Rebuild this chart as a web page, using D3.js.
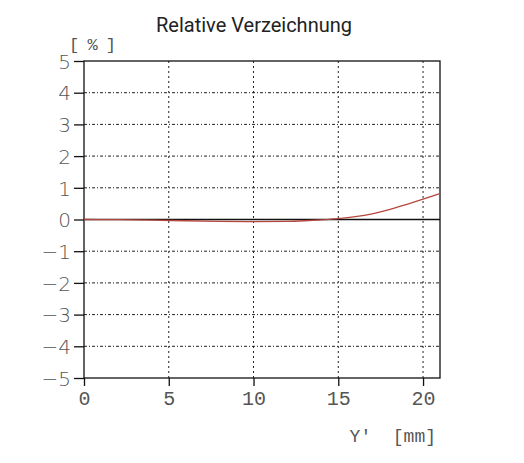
<!DOCTYPE html>
<html>
<head>
<meta charset="utf-8">
<script src="https://cdn.jsdelivr.net/npm/d3@7"></script>
<style>
  body { margin: 0; background: #fff; }
</style>
</head>
<body>
<svg width="524" height="463"></svg>
<script>
// image height Y' in mm, and relative distortion in %
var imgHeight = [0, 2, 4, 6, 8, 10, 12, 13, 14, 15, 16, 17, 18, 19, 20, 21];
var distortion = [0, -0.005, -0.02, -0.04, -0.06, -0.07, -0.06, -0.04, -0.01, 0.03, 0.09, 0.18, 0.31, 0.47, 0.64, 0.82];
var xTicks = [0, 5, 10, 15, 20];
var yTicks = [-5, -4, -3, -2, -1, 0, 1, 2, 3, 4, 5];

var svg = d3.select("svg");
var mLeft = 84, mRight = 440, mTop = 61, mBottom = 378;

var x = d3.scaleLinear().domain([0, 21]).range([mLeft, mRight]);
var y = d3.scaleLinear().domain([-5, 5]).range([mBottom, mTop]);

svg.append("text")
    .attr("x", 254).attr("y", 32)
    .attr("text-anchor", "middle")
    .style("font-family", "Roboto, 'Liberation Sans', sans-serif")
    .style("font-size", "20px")
    .style("fill", "#222")
    .text("Relative Verzeichnung");

// grid
svg.append("g").selectAll("line")
    .data(yTicks.filter(function(d) { return d != 0 && Math.abs(d) < 5; }))
    .enter().append("line")
    .attr("x1", mLeft).attr("x2", mRight)
    .attr("y1", function(d) { return y(d); })
    .attr("y2", function(d) { return y(d); })
    .style("stroke", "#222").style("stroke-width", 1)
    .style("stroke-dasharray", "3,2,1,2");

svg.append("g").selectAll("line")
    .data(xTicks.filter(function(d) { return d > 0; }))
    .enter().append("line")
    .attr("y1", mTop).attr("y2", mBottom)
    .attr("x1", function(d) { return x(d); })
    .attr("x2", function(d) { return x(d); })
    .style("stroke", "#222").style("stroke-width", 1)
    .style("stroke-dasharray", "2,3");

// frame
svg.append("rect")
    .attr("x", mLeft).attr("y", mTop)
    .attr("width", mRight - mLeft).attr("height", mBottom - mTop)
    .style("fill", "none").style("stroke", "#111").style("stroke-width", 1.3);

svg.append("line")
    .attr("x1", mLeft).attr("x2", mRight)
    .attr("y1", y(0)).attr("y2", y(0))
    .style("stroke", "#111").style("stroke-width", 1.3);

var xAxis = svg.append("g")
    .attr("transform", "translate(0," + mBottom + ")")
    .call(d3.axisBottom(x).tickValues(xTicks).tickSize(8).tickPadding(5).tickFormat(d3.format("d")));

var yAxis = svg.append("g")
    .attr("transform", "translate(" + mLeft + ",0)")
    .call(d3.axisLeft(y).tickValues(yTicks).tickSize(10).tickPadding(3)
        .tickFormat(function(d) { return d < 0 ? "\u2212" + (-d) : d; }));

[xAxis, yAxis].forEach(function(a) {
  a.select(".domain").remove();
  a.selectAll(".tick line").style("stroke", "#111").style("stroke-width", 1.3);
  a.selectAll("text")
    .style("font-family", "'Liberation Mono', 'DejaVu Sans Mono', monospace")
    .style("font-size", "20px")
    .style("fill", "#555");
});
yAxis.selectAll("text").style("font-family", "'DejaVu Sans', sans-serif").style("font-weight", "200").attr("dy", "0.36em");

svg.append("text")
    .attr("x", 69).attr("y", 50)
    .style("font-family", "'Liberation Mono', monospace")
    .style("font-size", "17px")
    .style("letter-spacing", "-1px")
    .style("fill", "#555")
    .attr("xml:space", "preserve")
    .text("[ % ]");

svg.append("text")
    .attr("x", 436).attr("y", 442)
    .attr("text-anchor", "end")
    .style("font-family", "'Liberation Mono', monospace")
    .style("font-size", "18px")
    .style("fill", "#555")
    .attr("xml:space", "preserve")
    .text("Y'  [mm]");

var line = d3.line()
    .x(function(d, i) { return x(imgHeight[i]); })
    .y(function(d) { return y(d); })
    .curve(d3.curveMonotoneX);

svg.append("path")
    .datum(distortion)
    .attr("d", line)
    .style("fill", "none")
    .style("stroke", "#b5463f")
    .style("stroke-width", 1.3);
</script>
</body>
</html>
